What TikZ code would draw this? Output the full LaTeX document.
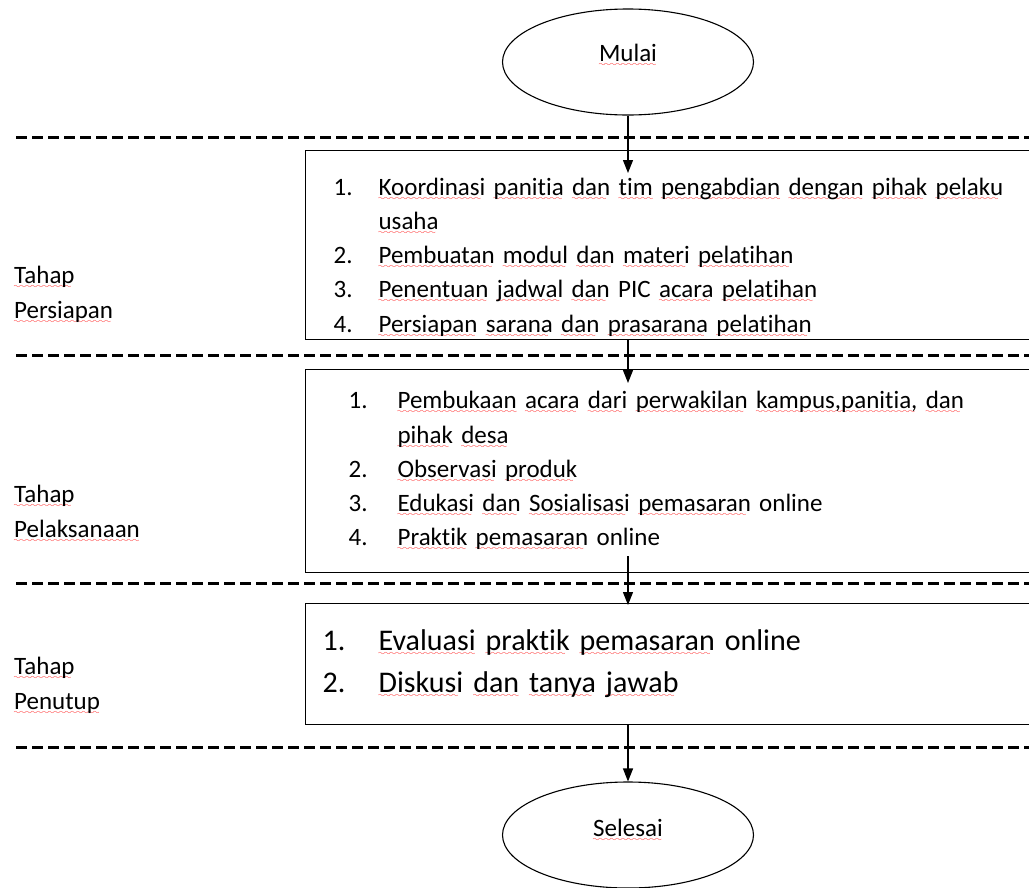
\documentclass[tikz,border=0pt]{standalone}
\usepackage{fontspec}
\setmainfont{Carlito}[Ligatures=NoCommon]
\usetikzlibrary{arrows.meta,shapes.geometric}
\font\wavefnt=lasy8
\newsavebox{\wubox}
\newcommand{\wu}[1]{\leavevmode\sbox{\wubox}{#1}\rlap{\lower5pt\hbox to\wd\wubox{\color{red}\leaders\hbox{\wavefnt\char58}\hfil}}\usebox{\wubox}}
\newcommand{\itemno}[2]{\makebox[#1][l]{#2}}

\begin{document}
\begin{tikzpicture}[
      x=1pt, y=-1pt,
      endpoint/.style={ellipse, draw, line width=1.1pt, minimum width=251pt, minimum height=106pt, inner sep=0pt, font=\fontsize{25}{34}\selectfont},
      box/.style={rectangle, draw, line width=1.2pt, anchor=north west, inner ysep=0pt, align=left, font=\fontsize{25}{34.2}\selectfont},
      phase/.style={anchor=west, inner sep=0pt, align=left, font=\fontsize{25}{35}\selectfont},
      arrow/.style={-{Triangle[width=10pt,length=13pt]}, line width=1.2pt},
      sep/.style={line width=3pt, dash pattern=on 11pt off 5pt}
    ]
    \useasboundingbox (0,0) rectangle (1029,887);

    \node[endpoint] (mulai) at (628,62) {\raisebox{18pt}{\wu{Mulai}}};
    \node[box, minimum width=795pt, minimum height=189pt, inner xsep=28pt, text width=739pt] (prep) at (305,150)
      {\rule{0pt}{42pt}\itemno{45pt}{1.}\wu{Koordinasi} \wu{panitia} \wu{dan} \wu{tim} \wu{pengabdian} \wu{dengan} \wu{pihak} \wu{pelaku}\\
       \hspace*{45pt}\wu{usaha}\\
       \itemno{45pt}{2.}\wu{Pembuatan} \wu{modul} \wu{dan} \wu{materi} \wu{pelatihan}\\
       \itemno{45pt}{3.}\wu{Penentuan} \wu{jadwal} \wu{dan} PIC \wu{acara} \wu{pelatihan}\\
       \itemno{45pt}{4.}\wu{Persiapan} \wu{sarana} \wu{dan} \wu{prasarana} \wu{pelatihan}};
    \node[box, minimum width=795pt, minimum height=203pt, inner xsep=43pt, text width=709pt] (impl) at (305,369)
      {\itemno{49pt}{1.}\wu{Pembukaan} \wu{acara} \wu{dari} \wu{perwakilan} \wu{kampus,panitia,} \wu{dan}\\
       \hspace*{49pt}\wu{pihak} \wu{desa}\\
       \itemno{49pt}{2.}\wu{Observasi} \wu{produk}\\
       \itemno{49pt}{3.}\wu{Edukasi} \wu{dan} \wu{Sosialisasi} \wu{pemasaran} online\\
       \itemno{49pt}{4.}\wu{Praktik} \wu{pemasaran} online};
    \node[box, minimum width=795pt, minimum height=121pt, inner xsep=17pt, text width=761pt, font=\fontsize{30}{42}\selectfont] (closing) at (305,603)
      {\itemno{56pt}{1.}\wu{Evaluasi} \wu{praktik} \wu{pemasaran} online\\
       \itemno{56pt}{2.}\wu{Diskusi} \wu{dan} \wu{tanya} \wu{jawab}};
    \node[endpoint] (selesai) at (628,835) {\raisebox{15pt}{\wu{Selesai}}};

    \node[phase] (lprep) at (14,295) {\wu{Tahap}\\\wu{Persiapan}};
    \node[phase] (limpl) at (14,514) {\wu{Tahap}\\\wu{Pelaksanaan}};
    \node[phase] (lclose) at (14,686) {\wu{Tahap}\\\wu{Penutup}};

    % stage separators
    \foreach \y in {137,355,583,747}
      \draw[sep] (16,\y) -- (1040,\y);

    \draw[arrow, shorten >=-23pt] (mulai.south) -- (mulai.south |- prep.north);
    \draw[arrow, shorten >=-14pt] (prep.south -| mulai) -- (impl.north -| mulai);
    \draw[arrow, shorten <=-17pt, shorten >=-2pt] (impl.south -| mulai) -- (closing.north -| mulai);
    \draw[arrow] (closing.south -| mulai) -- (selesai.north);
  \end{tikzpicture}
\end{document}
